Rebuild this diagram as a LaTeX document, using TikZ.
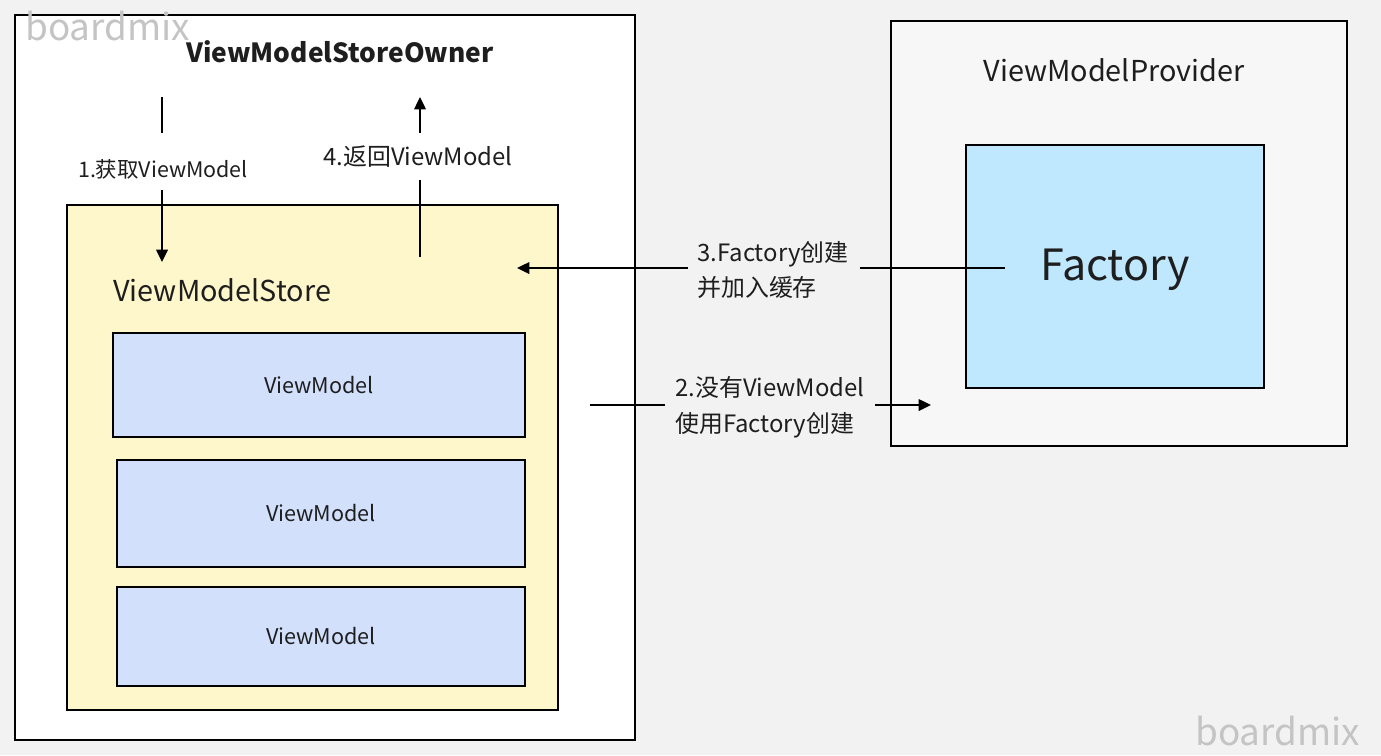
\documentclass[tikz,border=0pt]{standalone}
\usepackage{fontspec}
\setmainfont{Noto Sans CJK SC}
\usetikzlibrary{arrows.meta}
\definecolor{bg}{HTML}{F2F2F2}
\definecolor{storey}{HTML}{FFF7CC}
\definecolor{vmblue}{HTML}{D2E0FC}
\definecolor{facblue}{HTML}{BFE8FF}
\definecolor{provbg}{HTML}{F7F7F7}
\definecolor{ink}{HTML}{1E1E1E}
\definecolor{wm}{HTML}{C4C4C4}
\tikzset{
  box/.style={draw=black, line width=1.3pt},
  conn/.style={draw=black, line width=1.2pt},
  arr/.style={conn, -{Triangle[length=7pt,width=6.5pt]}},
  lbl/.style={text=ink, font=\fontsize{13.6pt}{20.4pt}\selectfont, inner sep=0pt},
  lblsmall/.style={text=ink, font=\fontsize{12.2pt}{20.4pt}\selectfont, inner sep=0pt},
  title/.style={text=ink, font=\fontsize{16.4pt}{18pt}\selectfont},
  vmtext/.style={text=ink, font=\fontsize{12.3pt}{14pt}\selectfont},
  wmark/.style={text=wm, font=\fontsize{21pt}{22pt}\selectfont, inner sep=0pt}
}
\begin{document}
\begin{tikzpicture}[x=0.02cm, y=-0.02cm]
\fill[bg] (0,0) rectangle (1381,755);
\useasboundingbox (0,0) rectangle (1381,755);
% Owner box
\draw[box, fill=white] (15,15) rectangle (635,740);
\node[text=ink, font=\fontsize{15pt}{18pt}\selectfont\bfseries] (owner) at (340,52) {ViewModelStoreOwner};
% Store box
\draw[box, fill=storey] (67,205) rectangle (558,710);
\node[title, anchor=west, inner sep=0pt] (store) at (113,290) {ViewModelStore};
% ViewModel boxes
\draw[box, fill=vmblue] (113,333) rectangle node[vmtext] (vm1) {ViewModel} (525,437);
\draw[box, fill=vmblue] (117,460) rectangle node[vmtext] (vm2) {ViewModel} (525,567);
\draw[box, fill=vmblue] (117,587) rectangle node[vmtext] (vm3) {ViewModel} (525,686);
% Provider box
\draw[box, fill=provbg] (891,21) rectangle (1347,446);
\node[title] (prov) at (1114,70) {ViewModelProvider};
\draw[box, fill=facblue] (966,145) rectangle (1264,388);
\node[text=ink, font=\fontsize{24.5pt}{30pt}\selectfont] (fac) at (1115,270) {Factory};
% Arrow 1
\coordinate (a1s) at (162,97);
\coordinate (a1m) at (162,133);
\node[lblsmall] (l1) at (163,169) {1.获取ViewModel};
\coordinate (a1n) at (162,190);
\coordinate (a1e) at (162,262);
\draw[conn] (a1s) -- (a1m);
\draw[arr] (a1n) -- (a1e);
% Arrow 4
\coordinate (a4s) at (420,257);
\coordinate (a4m) at (420,180);
\node[lbl] (l4) at (418,157) {4.返回ViewModel};
\coordinate (a4n) at (420,133);
\coordinate (a4e) at (420,97);
\draw[conn] (a4s) -- (a4m);
\draw[arr] (a4n) -- (a4e);
% Arrow 3
\coordinate (a3s) at (1005,268);
\coordinate (a3m) at (860,268);
\node[lbl, anchor=west, align=left] (l3) at (697,270) {3.Factory创建\\并加入缓存};
\coordinate (a3n) at (688,268);
\coordinate (a3e) at (517,268);
\draw[conn] (a3s) -- (a3m);
\draw[arr] (a3n) -- (a3e);
% Arrow 2
\coordinate (a2s) at (590,405);
\coordinate (a2m) at (665,405);
\node[lbl, anchor=west, align=left] (l2) at (675,407) {2.没有ViewModel\\使用Factory创建};
\coordinate (a2n) at (875,405);
\coordinate (a2e) at (931,405);
\draw[conn] (a2s) -- (a2m);
\draw[arr] (a2n) -- (a2e);
% watermarks
\node[wmark, anchor=west] (wm1) at (25,26) {boardmix};
\node[wmark, anchor=west] (wm2) at (1195,731) {boardmix};
\end{tikzpicture}
\end{document}
